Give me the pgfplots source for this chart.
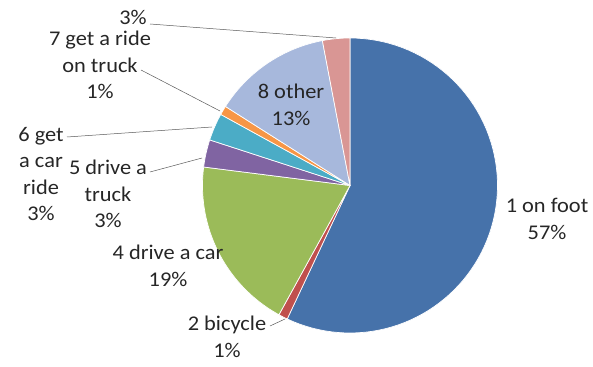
\documentclass[border=0pt]{standalone}
\usepackage{pgfplots}
\pgfplotsset{compat=1.18}
\usepackage{fontspec}
\setmainfont{Carlito}[FakeStretch=1.07]
\definecolor{cfoot}{HTML}{4672AA}
\definecolor{cbike}{HTML}{C0504D}
\definecolor{ccar}{HTML}{9BBB59}
\definecolor{ctruck}{HTML}{8064A2}
\definecolor{cride}{HTML}{4BACC6}
\definecolor{crtruck}{HTML}{F79646}
\definecolor{cother}{HTML}{A7B8DC}
\definecolor{cnine}{HTML}{D99694}
% center (350,181.5) radius 147.5 in a 593x367 bp frame
\newcommand{\slice}[3]{% #1 cumulative percent before, #2 percent, #3 colour
  \addplot[fill=#3, draw=white, line width=0.7pt, domain={90-3.6*(#1+#2)}:{90-3.6*(#1)}, samples=80]
    ({350+147.5*cos(x)},{181.5+147.5*sin(x)}) -- (axis cs:350,181.5) -- cycle;}
\begin{document}
\begin{tikzpicture}
\begin{axis}[
  scale only axis, width=593bp, height=367bp,
  xmin=0, xmax=593, ymin=0, ymax=367,
  hide axis, clip=false,
]
% percentages: on foot 57, bicycle 1, drive a car 19, drive a truck 3,
% get a car ride 3, get a ride on truck 1, other 13, ninth 3
\slice{0}{57}{cfoot}
\slice{57}{1}{cbike}
\slice{58}{19}{ccar}
\slice{77}{3}{ctruck}
\slice{80}{3}{cride}
\slice{83}{1}{crtruck}
\slice{84}{13}{cother}
\slice{97}{3}{cnine}
\begin{scope}[every node/.style={align=center, font=\fontsize{21}{26.5}\selectfont, text=black!85, inner sep=1pt}]
\node at (axis cs:547,148) {1 on foot\\57\%};
\node at (axis cs:227,30) {2 bicycle\\1\%};
\node at (axis cs:168,101) {4 drive a car\\19\%};
\node at (axis cs:108,173) {5 drive a\\truck\\3\%};
\node at (axis cs:41,193) {6 get\\a car\\ride\\3\%};
\node at (axis cs:100,302) {7 get a ride\\on truck\\1\%};
\node at (axis cs:291,262) {8 other\\13\%};
\node at (axis cs:133,350) {3\%};
\end{scope}
\draw[gray!70!black, line width=0.5pt] (axis cs:270,41) -- (axis cs:285,48);
\draw[gray!70!black, line width=0.5pt] (axis cs:150,195) -- (axis cs:202,209);
\draw[gray!70!black, line width=0.5pt] (axis cs:67,230) -- (axis cs:212,240);
\draw[gray!70!black, line width=0.5pt] (axis cs:141,297) -- (axis cs:220,256);
\draw[gray!70!black, line width=0.5pt] (axis cs:150,343) -- (axis cs:336,329);
\end{axis}
\pgfresetboundingbox
\path (current axis.south west) rectangle (current axis.north east);
\end{tikzpicture}
\end{document}
